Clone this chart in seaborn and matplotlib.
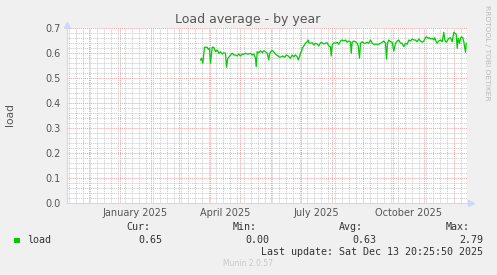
import numpy as np
import pandas as pd
import matplotlib
matplotlib.use("Agg")
import matplotlib.pyplot as plt
import matplotlib.dates as mdates
import matplotlib.ticker as mticker
import matplotlib.transforms as mtransforms
from matplotlib.patches import Rectangle
import seaborn as sns

# ---------------- data ----------------
series_name = "load"
origin_date = "2025-01-01"
# days since 2025-01-01
day_offsets = [
    81.0, 82.0, 83.3, 85.0, 87.7, 88.7, 90.0, 91.0, 92.7, 94.3, 96.0, 97.7, 99.3,
    101.0, 102.7, 104.3, 106.0, 107.0, 108.3, 109.3, 111.0, 112.7, 114.3, 116.0,
    117.7, 119.3, 121.0, 122.7, 124.3, 126.0, 127.7, 129.3, 131.0, 132.7, 134.3,
    136.0, 136.7, 137.7, 139.3, 141.0, 142.7, 144.3,
    146.0, 147.7, 149.3, 150.0, 152.0, 153.3, 155.3, 157.0, 158.7, 160.0, 162.0,
    163.3, 165.3, 166.7, 168.7, 170.0, 171.0, 172.7, 174.3, 176.0, 177.7, 178.7,
    180.0, 181.0, 182.0, 182.7, 184.3, 186.0, 187.7, 188.7, 189.3, 191.0, 192.7,
    194.3, 196.0, 197.7, 199.3, 201.0, 202.7, 204.3, 206.0, 207.7, 209.3, 211.0,
    211.7, 212.7, 214.3,
    216.0, 217.7, 219.3, 221.0, 222.7, 224.3, 226.0, 227.7, 229.3, 231.0, 231.7,
    232.7, 234.3, 236.0, 237.7, 238.7, 240.0, 241.0, 242.7, 244.3, 246.0, 247.7,
    249.3, 251.0, 252.7, 254.3, 256.0, 257.7, 259.3, 261.0, 262.7, 264.3, 266.0,
    267.0, 268.0, 269.3, 271.0, 272.7, 274.3, 276.0, 277.7, 279.3, 281.0, 282.7,
    284.3,
    286.0, 287.7, 289.3, 291.0, 292.7, 294.3, 296.0, 297.7, 299.3, 301.0, 302.7,
    304.3, 305.3, 306.7, 308.7, 310.0, 311.0, 312.7, 314.3, 315.3, 316.7, 317.7,
    319.3, 321.0, 322.7, 324.3, 325.3, 326.7, 327.7, 329.3, 331.0, 332.7, 334.3,
    335.3, 336.7, 337.7, 338.7, 340.0, 341.0, 342.0, 343.3, 344.3, 346.0, 346.7,
]
load_values = [
    0.572, 0.579, 0.559, 0.623, 0.623, 0.615, 0.619, 0.559, 0.623, 0.623, 0.605, 0.612, 0.599,
    0.605, 0.596, 0.601, 0.599, 0.543, 0.579, 0.583, 0.592, 0.599, 0.592, 0.592,
    0.588, 0.596, 0.588, 0.596, 0.595, 0.599, 0.596, 0.596, 0.599, 0.592, 0.596,
    0.579, 0.545, 0.605, 0.601, 0.609, 0.601, 0.609,
    0.605, 0.599, 0.572, 0.596, 0.609, 0.609, 0.599, 0.592, 0.588, 0.583, 0.585,
    0.588, 0.583, 0.592, 0.588, 0.583, 0.579, 0.592, 0.585, 0.592, 0.585, 0.572,
    0.585, 0.599, 0.605, 0.619, 0.628, 0.639, 0.645, 0.652, 0.641, 0.639, 0.641,
    0.632, 0.639, 0.636, 0.628, 0.641, 0.641, 0.636, 0.639, 0.641, 0.628, 0.625,
    0.588, 0.632, 0.641,
    0.639, 0.643, 0.635, 0.648, 0.652, 0.648, 0.652, 0.643, 0.648, 0.645, 0.599,
    0.643, 0.648, 0.645, 0.639, 0.629, 0.579, 0.639, 0.645, 0.639, 0.639, 0.643,
    0.639, 0.652, 0.639, 0.635, 0.635, 0.635, 0.635, 0.639, 0.643, 0.648, 0.639,
    0.576, 0.639, 0.652, 0.645, 0.643, 0.608, 0.639, 0.648, 0.652, 0.639, 0.639,
    0.625,
    0.639, 0.635, 0.652, 0.648, 0.656, 0.652, 0.652, 0.645, 0.656, 0.648, 0.643,
    0.648, 0.656, 0.665, 0.659, 0.661, 0.656, 0.659, 0.652, 0.661, 0.645, 0.639,
    0.648, 0.652, 0.645, 0.683, 0.652, 0.643, 0.648, 0.659, 0.661, 0.645, 0.683,
    0.679, 0.675, 0.619, 0.659, 0.639, 0.659, 0.665, 0.661, 0.645, 0.603, 0.639,
]
x_start = "2024-11-09"
x_end = "2025-12-14"
y_min, y_max = 0.0, 0.7
label_months = [1, 4, 7, 10]

title_text = "Load average - by year"
y_label = "load"
stat_headers = ["Cur:", "Min:", "Avg:", "Max:"]
stat_values = ["0.65", "0.00", "0.63", "2.79"]
last_update = "Last update: Sat Dec 13 20:25:50 2025"
watermark = "RRDTOOL / TOBI OETIKER"
footer = "Munin 2.0.57"

# ---------------- style ----------------
W, H = 497, 275
BG = "#F0F0F0"
FONT_C = "#555555"
AXIS_C = "#CFD6F8"
LINE_C = "#00CC00"
MGRID_C = "#F0A0A0"
GRID_C = "#C8C8C8"

plt.rcParams["font.family"] = ["DejaVu Sans"]

fig = plt.figure(figsize=(W / 100, H / 100), dpi=100, facecolor=BG)

def fx(px):
    return px / W

def fy(py):
    return 1 - py / H

ax_left, ax_right, ax_top, ax_bottom = 66.5, 466.5, 28.0, 203.0
ax = fig.add_axes([fx(ax_left), fy(ax_bottom), fx(ax_right - ax_left), (ax_bottom - ax_top) / H])
ax.set_facecolor("white")

df = pd.DataFrame({
    "date": pd.Timestamp(origin_date) + pd.to_timedelta(day_offsets, unit="D"),
    series_name: load_values,
})
sns.lineplot(data=df, x="date", y=series_name, ax=ax, color=LINE_C, linewidth=0.9, zorder=3)

ax.set_xlim(pd.Timestamp(x_start), pd.Timestamp(x_end))
ax.set_ylim(y_min, y_max)
ax.set_xlabel("")
ax.set_ylabel("")

# y axis
ax.yaxis.set_major_locator(mticker.MultipleLocator(0.1))
ax.yaxis.set_minor_locator(mticker.MultipleLocator(0.02))
ax.yaxis.set_major_formatter(mticker.FormatStrFormatter("%.1f"))

# x axis
ax.xaxis.set_major_locator(mdates.MonthLocator())
ax.xaxis.set_minor_locator(mdates.WeekdayLocator(byweekday=mdates.MO))

def month_fmt(x, pos=None):
    d = mdates.num2date(x)
    if d.month in label_months:
        return d.strftime("%B %Y")
    return ""

ax.xaxis.set_major_formatter(mticker.FuncFormatter(month_fmt))

ax.grid(which="major", color=MGRID_C, linestyle=(0, (1, 1)), linewidth=0.7, zorder=1)
ax.grid(which="minor", color=GRID_C, linestyle=(0, (1, 1)), linewidth=0.7, zorder=0.5)
ax.set_axisbelow(True)

ax.tick_params(which="both", length=0, colors=FONT_C, labelsize=7)
ax.tick_params(axis="y", pad=4.5)
ax.tick_params(axis="x", pad=3.5)

for s in ["top", "right"]:
    ax.spines[s].set_visible(False)
for s in ["left", "bottom"]:
    ax.spines[s].set_color(AXIS_C)
    ax.spines[s].set_linewidth(0.8)

# arrows at axis ends
ax.plot([0], [1.02], marker="^", markersize=4, color=AXIS_C, transform=ax.transAxes, clip_on=False)
ax.plot([1.01], [0], marker=">", markersize=4, color=AXIS_C, transform=ax.transAxes, clip_on=False)

# texts
fig.text(fx(248), fy(20), title_text, ha="center", va="center", fontsize=9, color=FONT_C)
fig.text(fx(10.5), fy(114.5), y_label, ha="center", va="center", rotation=90, fontsize=7.7, color=FONT_C)
fig.text(fx(487), fy(5), watermark, ha="center", va="top", rotation=270, fontsize=5.4, color="#BBBBBB")

mono = "DejaVu Sans Mono"
hdr_x = [150, 257, 363, 470]
val_x = [162.7, 269, 376, 483]
for hx, vx, h, v in zip(hdr_x, val_x, stat_headers, stat_values):
    fig.text(fx(hx), fy(227.3), h, ha="right", va="center", family=mono, fontsize=7.2, color="#333333")
    fig.text(fx(vx), fy(240), v, ha="right", va="center", family=mono, fontsize=7.2, color="#333333")
fig.patches.append(Rectangle((fx(14), fy(242.5)), 6 / W, 5 / H, transform=fig.transFigure,
                             facecolor=LINE_C, edgecolor="none"))
fig.text(fx(26.7), fy(240), series_name, ha="left", va="center", family=mono, fontsize=7.2, color="#333333")
fig.text(fx(483), fy(251.7), last_update, ha="right", va="center", family=mono, fontsize=7.2, color="#333333")
fig.text(fx(248), fy(264), footer, ha="center", va="center", fontsize=5.5, color="#C8C8C8")

# shift month labels to the middle of the month (rrdtool style)
fig.canvas.draw()
offset = mtransforms.ScaledTranslation(16 / 100, 0, fig.dpi_scale_trans)
for lab in ax.xaxis.get_majorticklabels():
    lab.set_transform(lab.get_transform() + offset)

fig.savefig("out.png", dpi=100, facecolor=BG)
